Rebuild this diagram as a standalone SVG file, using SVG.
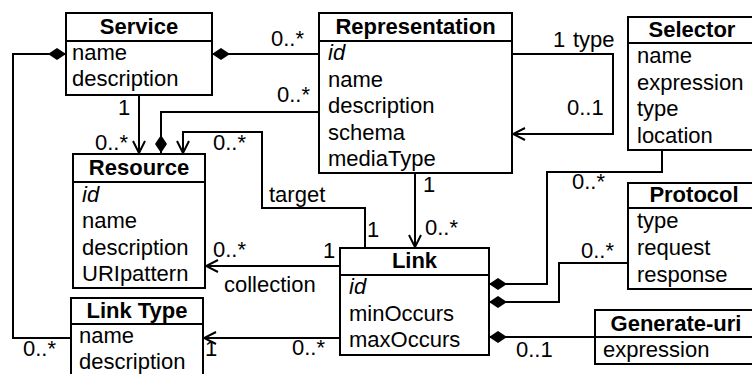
<svg xmlns="http://www.w3.org/2000/svg" width="752" height="374" viewBox="0 0 752 374">
<style>
text{font-family:"Liberation Sans",Arial,sans-serif;font-size:22px;fill:#000}
.h{font-weight:bold;text-anchor:middle}
.i{font-style:italic}
.box{fill:#fff;stroke:#000;stroke-width:2}
.sep{stroke:#000;stroke-width:2}
.c{fill:none;stroke:#000;stroke-width:2}
</style>
<defs>
<marker id="arr" viewBox="-13 -7 14 14" markerWidth="14" markerHeight="14" refX="0" refY="0" orient="auto" markerUnits="userSpaceOnUse">
<path d="M-12,-6 L0,0 L-12,6" fill="none" stroke="#000" stroke-width="2"/>
</marker>
<marker id="dia" viewBox="-1 -7 20 14" markerWidth="20" markerHeight="14" refX="0" refY="0" orient="auto" markerUnits="userSpaceOnUse">
<path d="M0,0 L9,-6 L18,0 L9,6 Z" fill="#000"/>
</marker>
</defs>
<g id="connectors">
<path class="c" d="M212,54 L319,54" marker-start="url(#dia)"/>
<path class="c" d="M66,54 L13,54 L13,338 L71,338" marker-start="url(#dia)"/>
<path class="c" d="M139,95 L139,153" marker-end="url(#arr)"/>
<path class="c" d="M161,153 L161,112 L319,112" marker-start="url(#dia)"/>
<path class="c" d="M365,248 L365,208 L262,208 L262,132 L183,132 L183,153" marker-end="url(#arr)"/>
<path class="c" d="M415,173 L415,247" marker-end="url(#arr)"/>
<path class="c" d="M512,54 L613,54 L613,134 L513,134" marker-end="url(#arr)"/>
<path class="c" d="M489,284 L547,284 L547,172 L662,172 L662,150" marker-start="url(#dia)"/>
<path class="c" d="M489,302 L559,302 L559,263 L628,263" marker-start="url(#dia)"/>
<path class="c" d="M489,337 L595,337" marker-start="url(#dia)"/>
<path class="c" d="M340,266 L206,266" marker-end="url(#arr)"/>
<path class="c" d="M340,338 L204,338" marker-end="url(#arr)"/>
<text x="271" y="46">0..*</text>
<text x="277" y="102">0..*</text>
<text x="118" y="115">1</text>
<text x="95" y="150">0..*</text>
<text x="213" y="150">0..*</text>
<text x="269" y="202">target</text>
<text x="367" y="237">1</text>
<text x="423" y="192">1</text>
<text x="425" y="235">0..*</text>
<text x="553" y="47">1</text>
<text x="573" y="47">type</text>
<text x="567" y="115">0..1</text>
<text x="572" y="189">0..*</text>
<text x="581" y="258">0..*</text>
<text x="516" y="357">0..1</text>
<text x="213" y="257">0..*</text>
<text x="323" y="258">1</text>
<text x="224" y="292">collection</text>
<text x="292" y="355">0..*</text>
<text x="205" y="356">1</text>
<text x="23" y="356">0..*</text>
</g>
<g id="service">
<rect class="box" x="66" y="13" width="146" height="82"/>
<line class="sep" x1="66" y1="41" x2="212" y2="41"/>
<text class="h" x="139" y="34">Service</text>
<text x="72" y="60">name</text>
<text x="72" y="86">description</text>
</g>
<g id="representation">
<rect class="box" x="319" y="13" width="193" height="160"/>
<line class="sep" x1="319" y1="41" x2="512" y2="41"/>
<text class="h" x="415.5" y="34">Representation</text>
<text class="i" x="328" y="60">id</text>
<text x="328" y="86.5">name</text>
<text x="328" y="113">description</text>
<text x="328" y="139.5">schema</text>
<text x="328" y="166">mediaType</text>
</g>
<g id="selector">
<rect class="box" x="628" y="17" width="130" height="133"/>
<line class="sep" x1="628" y1="43" x2="758" y2="43"/>
<text class="h" x="692" y="37">Selector</text>
<text x="637" y="63">name</text>
<text x="637" y="89.5">expression</text>
<text x="637" y="116">type</text>
<text x="637" y="142.5">location</text>
</g>
<g id="resource">
<rect class="box" x="73" y="154" width="132" height="134"/>
<line class="sep" x1="73" y1="182" x2="205" y2="182"/>
<text class="h" x="139" y="175">Resource</text>
<text class="i" x="82" y="202">id</text>
<text x="82" y="228">name</text>
<text x="82" y="255">description</text>
<text x="82" y="281">URIpattern</text>
</g>
<g id="linktype">
<rect class="box" x="71" y="298" width="132" height="90"/>
<line class="sep" x1="71" y1="324" x2="203" y2="324"/>
<text class="h" x="137" y="318">Link Type</text>
<text x="79" y="343">name</text>
<text x="79" y="369">description</text>
</g>
<g id="link">
<rect class="box" x="340" y="248" width="149" height="107"/>
<line class="sep" x1="340" y1="275" x2="489" y2="275"/>
<text class="h" x="414.5" y="268">Link</text>
<text class="i" x="349" y="294">id</text>
<text x="349" y="321">minOccurs</text>
<text x="349" y="347">maxOccurs</text>
</g>
<g id="protocol">
<rect class="box" x="628" y="183" width="130" height="106"/>
<line class="sep" x1="628" y1="208" x2="758" y2="208"/>
<text class="h" x="694" y="202">Protocol</text>
<text x="637" y="228">type</text>
<text x="637" y="255">request</text>
<text x="637" y="282">response</text>
</g>
<g id="generateuri">
<rect class="box" x="595" y="310" width="165" height="54"/>
<line class="sep" x1="595" y1="337" x2="760" y2="337"/>
<text class="h" x="676" y="331">Generate-uri</text>
<text x="603" y="357">expression</text>
</g>
</svg>
